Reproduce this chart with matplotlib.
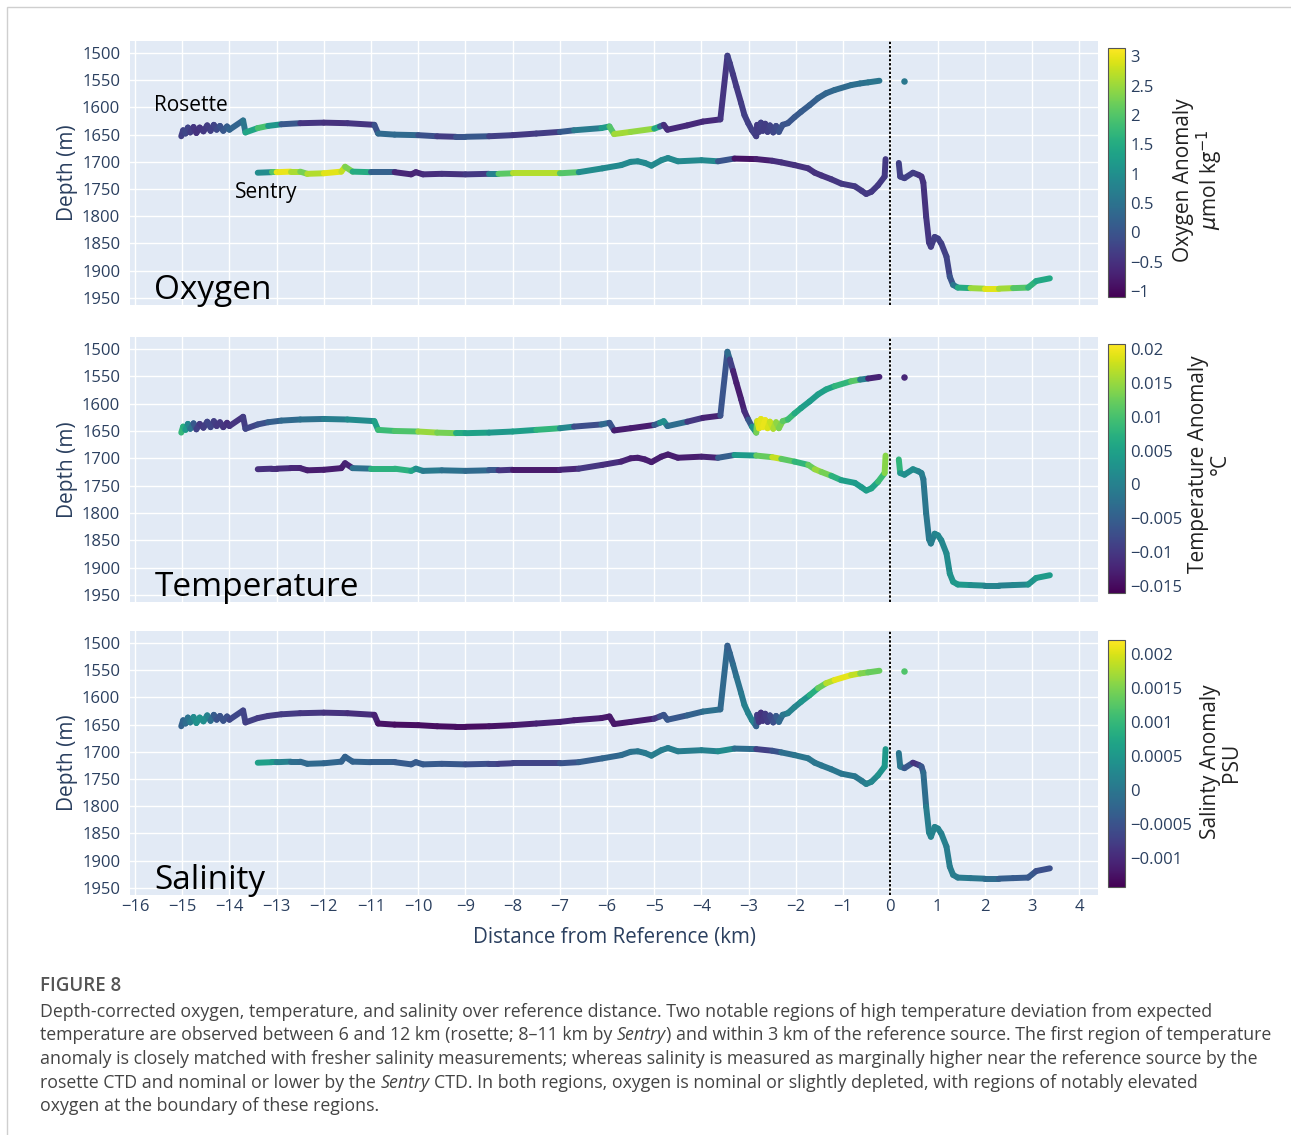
import numpy as np
import matplotlib
matplotlib.use('Agg')
import matplotlib.pyplot as plt
from matplotlib.collections import LineCollection
from matplotlib.colors import Normalize
from matplotlib.patches import Rectangle
import matplotlib.cm as cm

plt.rcParams['font.family'] = ['Open Sans', 'DejaVu Sans']

# ---------------- data ----------------
rosette_km = [-15.02, -14.98, -14.93, -14.88, -14.83, -14.76, -14.70, -14.63, -14.55, -14.47,
              -14.40, -14.33, -14.27, -14.20, -14.13, -14.05, -14.00, -13.71, -13.66, -13.40,
              -13.18, -12.90, -12.50, -12.00, -11.50, -10.93, -10.85, -10.50, -10.00, -9.60,
              -9.20, -9.00, -8.50, -8.00, -7.50, -7.00, -6.70, -6.12, -5.95, -5.85,
              -5.50, -5.00, -4.88, -4.80, -4.72, -4.30, -3.97, -3.60, -3.45, -3.40,
              -3.33, -3.26, -3.16, -3.09, -3.01, -2.93, -2.84, -2.82, -2.78, -2.74,
              -2.70, -2.65, -2.60, -2.55, -2.48, -2.42, -2.36, -2.28, -2.17, -2.03,
              -1.89, -1.71, -1.53, -1.36, -1.18, -0.83, -0.64, -0.47, -0.23]
rosette_depth = [1653, 1642, 1648, 1637, 1646, 1636, 1647, 1637, 1644, 1633,
                 1643, 1632, 1641, 1634, 1643, 1635, 1641, 1624, 1646, 1638,
                 1634, 1631, 1629, 1628, 1629, 1632, 1648, 1650, 1651, 1653,
                 1654, 1654, 1653, 1651, 1648, 1645, 1642, 1638, 1635, 1649,
                 1645, 1639, 1635, 1632, 1641, 1633, 1626, 1622, 1505, 1519,
                 1540, 1562, 1592, 1614, 1629, 1642, 1653, 1632, 1645, 1628,
                 1643, 1630, 1645, 1633, 1646, 1634, 1645, 1632, 1629, 1618,
                 1608, 1596, 1583, 1574, 1568, 1559, 1556, 1554, 1551]
rosette_oxygen = [-0.3, -0.3, -0.2, -0.2, -0.3, -0.4, -0.5, -0.5, -0.4, -0.4,
                  -0.3, -0.3, -0.2, -0.1, 0.0, 0.1, 0.2, 0.3, 0.8, 2.0,
                  1.8, 0.5, -0.4, -0.5, -0.5, -0.4, 0.3, 0.4, 0.3, -0.4,
                  -0.3, 0.3, -0.2, -0.4, -0.4, -0.3, 0.5, 0.8, 1.6, 2.4,
                  2.7, 2.2, 0.7, -0.5, -0.6, -0.6, -0.6, -0.6, -0.3, -0.3,
                  -0.4, -0.4, -0.4, -0.3, -0.3, -0.3, -0.3, -0.4, -0.4, -0.3,
                  -0.3, -0.4, -0.3, -0.3, -0.2, -0.2, -0.1, 0.0, 0.0, 0.05,
                  0.1, 0.15, 0.2, 0.25, 0.3, 0.4, 0.45, 0.5, 0.6]
rosette_temp = [0.009, 0.008, 0.006, 0.002, 0.000, -0.004, -0.008, -0.010, -0.010, -0.009,
                -0.008, -0.009, -0.010, -0.010, -0.010, -0.011, -0.011, -0.010, -0.009, -0.008,
                -0.006, -0.004, -0.003, -0.002, 0.001, 0.002, 0.008, 0.010, 0.011, 0.019,
                0.007, 0.006, 0.004, 0.003, 0.006, 0.010, -0.008, -0.007, 0.000, -0.013,
                -0.013, -0.013, 0.002, 0.002, 0.002, -0.008, -0.012, -0.013, 0.000, -0.006,
                -0.012, -0.013, -0.013, -0.012, -0.010, -0.002, 0.008, 0.018, 0.019, 0.019,
                0.019, 0.020, 0.019, 0.018, 0.017, 0.015, 0.014, 0.013, 0.010, 0.008,
                0.005, 0.004, 0.004, 0.005, 0.006, 0.010, 0.012, -0.013, -0.012]
rosette_salinity = [-0.0003, -0.0003, -0.0002, -0.0001, 0.0000, 0.0002, 0.0004, 0.0004, 0.0004, 0.0003,
                    0.0000, -0.0003, -0.0005, -0.0005, -0.0005, -0.0005, -0.0006, -0.0007, -0.0007, -0.0008,
                    -0.0008, -0.0008, -0.0008, -0.0009, -0.0009, -0.0010, -0.0012, -0.0013, -0.0013, -0.0013,
                    -0.0013, -0.0013, -0.0013, -0.0012, -0.0011, -0.0011, -0.0011, -0.0012, -0.0012, -0.0012,
                    -0.0012, -0.0011, -0.0006, -0.0005, -0.0005, -0.0004, -0.0002, 0.0000, -0.0004, -0.0003,
                    -0.0002, -0.0001, 0.0000, 0.0001, 0.0002, 0.0002, 0.0001, -0.0008, -0.0008, -0.0009,
                    -0.0009, -0.0008, -0.0008, -0.0007, -0.0006, -0.0005, -0.0003, -0.0001, 0.0001, 0.0002,
                    0.0003, 0.0006, 0.0011, 0.0016, 0.0020, 0.0021, 0.0016, 0.0014, 0.0013]

rosette_dot_km = [0.28]
rosette_dot_depth = [1551]
rosette_dot_oxygen = [0.6]
rosette_dot_temp = [-0.012]
rosette_dot_salinity = [0.0012]

sentry_a_km = [-13.40, -13.10, -13.00, -12.70, -12.50, -12.35, -12.00, -11.63, -11.55, -11.39,
               -11.00, -10.50, -10.15, -10.05, -9.90, -9.50, -9.00, -8.50, -8.30, -8.00,
               -7.00, -6.60, -6.10, -5.70, -5.50, -5.35, -5.20, -5.06, -4.85, -4.71,
               -4.50, -4.00, -3.65, -3.30, -2.84, -2.50, -2.31, -2.03, -1.74, -1.60,
               -1.46, -1.25, -1.04, -0.75, -0.61, -0.51, -0.40, -0.26, -0.12, -0.10]
sentry_a_depth = [1720, 1719, 1719, 1718, 1718, 1722, 1721, 1718, 1709, 1718,
                  1719, 1719, 1723, 1719, 1723, 1722, 1723, 1722, 1722, 1721,
                  1721, 1719, 1712, 1706, 1700, 1699, 1702, 1707, 1697, 1693,
                  1699, 1697, 1699, 1694, 1695, 1698, 1701, 1706, 1712, 1720,
                  1725, 1732, 1740, 1745, 1753, 1759, 1755, 1743, 1727, 1695]
sentry_a_oxygen = [0.9, 1.0, 3.0, 3.0, 2.2, 2.3, 3.0, 2.9, 2.6, 2.0,
                   1.0, -0.6, -0.7, -0.7, -0.6, -0.5, -0.5, -0.3, 1.8, 2.3,
                   3.0, 1.0, 0.9, 0.9, 0.9, 0.9, 0.9, 0.9, 0.9, 0.9,
                   0.9, 0.9, 0.9, -0.9, -0.9, -0.6, -0.5, -0.5, -0.5, -0.5,
                   -0.5, -0.45, -0.4, -0.4, -0.4, -0.4, -0.4, -0.4, -0.4, -0.4]
sentry_a_temp = [-0.011, -0.011, -0.011, -0.012, -0.012, -0.013, -0.013, -0.013, -0.013, -0.012,
                 0.007, 0.008, 0.007, 0.004, 0.000, -0.002, -0.003, -0.004, -0.008, -0.013,
                 -0.014, -0.010, -0.010, -0.012, -0.013, -0.013, -0.013, -0.013, -0.013, -0.013,
                 -0.013, -0.013, -0.012, 0.002, 0.006, 0.018, 0.017, 0.006, 0.010, 0.014,
                 0.016, 0.010, 0.005, 0.004, 0.004, 0.004, 0.005, 0.006, 0.012, 0.016]
sentry_a_salinity = [0.0006, 0.0006, 0.0004, -0.0001, -0.0002, -0.0002, -0.0002, -0.0003, -0.0003, -0.0003,
                     -0.0003, -0.0004, -0.0004, -0.0004, -0.0004, -0.0004, -0.0005, -0.0006, -0.0007, -0.0008,
                     -0.0006, -0.0004, -0.0003, -0.0002, -0.0001, 0.0000, 0.0000, 0.0001, 0.0001, 0.0001,
                     0.0001, 0.0001, 0.0002, 0.0004, -0.0007, -0.0008, -0.0002, 0.0000, 0.0000, 0.0000,
                     0.0000, 0.0000, 0.0000, 0.0000, 0.0000, 0.0001, 0.0002, 0.0003, 0.0005, 0.0005]

sentry_b_km = [0.18, 0.21, 0.30, 0.48, 0.60, 0.66, 0.70, 0.76, 0.82, 0.86,
               0.94, 1.01, 1.08, 1.19, 1.26, 1.33, 1.43, 1.70, 2.00, 2.30,
               2.60, 2.92, 3.09, 3.38]
sentry_b_depth = [1702, 1727, 1730, 1720, 1724, 1727, 1738, 1801, 1848, 1856,
                  1838, 1841, 1850, 1874, 1911, 1926, 1931, 1932, 1933, 1933,
                  1932, 1931, 1919, 1914]
sentry_b_oxygen = [-0.3, -0.3, -0.3, -0.3, -0.4, -0.5, -0.5, -0.5, -0.4, -0.4,
                   -0.3, -0.3, -0.3, -0.3, -0.2, 0.2, 1.0, 2.0, 3.0, 2.9,
                   2.2, 1.8, 1.5, 1.4]
sentry_b_temp = [0.012, 0.004, 0.002, 0.002, 0.001, 0.000, -0.001, -0.002, -0.001, -0.001,
                 0.000, 0.001, 0.001, 0.001, 0.002, 0.003, 0.004, 0.003, 0.001, 0.000,
                 0.000, 0.002, 0.004, 0.004]
sentry_b_salinity = [0.0000, 0.0000, 0.0000, -0.0009, -0.0009, -0.0006, -0.0003, 0.0000, 0.0002, 0.0002,
                     0.0002, 0.0002, 0.0002, 0.0001, 0.0001, 0.0001, 0.0001, 0.0000, 0.0000, -0.0003,
                     -0.0004, -0.0004, -0.0005, -0.0006]

panel_names = ['Oxygen', 'Temperature', 'Salinity']
cbar_titles = ['Oxygen Anomaly\n$\\mu$mol kg$^{-1}$', 'Temperature Anomaly\n°C', 'Salinty Anomaly\nPSU']
cbar_ranges = [(-1.1, 3.14), (-0.016, 0.0207), (-0.00143, 0.0022)]
cbar_ticks = [[-1, -0.5, 0, 0.5, 1, 1.5, 2, 2.5, 3],
              [-0.015, -0.01, -0.005, 0, 0.005, 0.01, 0.015, 0.02],
              [-0.001, -0.0005, 0, 0.0005, 0.001, 0.0015, 0.002]]
x_ticks = list(range(-16, 5))
depth_ticks = list(range(1500, 2000, 50))

caption_title = 'FIGURE 8'
caption_lines = [
    [('Depth-corrected oxygen, temperature, and salinity over reference distance. Two notable regions of high temperature deviation from expected', 'normal')],
    [('temperature are observed between 6 and 12 km (rosette; 8\u201311 km by', 'normal'), ('Sentry', 'italic'),
     (') and within 3 km of the reference source. The first region of temperature', 'normal')],
    [('anomaly is closely matched with fresher salinity measurements; whereas salinity is measured as marginally higher near the reference source by the', 'normal')],
    [('rosette CTD and nominal or lower by the', 'normal'), ('Sentry', 'italic'),
     ('CTD. In both regions, oxygen is nominal or slightly depleted, with regions of notably elevated', 'normal')],
    [('oxygen at the boundary of these regions.', 'normal')],
]
# ---------------------------------------------------------------

for a, b in [(rosette_km, rosette_depth), (rosette_km, rosette_oxygen), (rosette_km, rosette_temp),
             (rosette_km, rosette_salinity), (sentry_a_km, sentry_a_depth), (sentry_a_km, sentry_a_oxygen),
             (sentry_a_km, sentry_a_temp), (sentry_a_km, sentry_a_salinity), (sentry_b_km, sentry_b_depth),
             (sentry_b_km, sentry_b_oxygen), (sentry_b_km, sentry_b_temp), (sentry_b_km, sentry_b_salinity)]:
    assert len(a) == len(b), (len(a), len(b))

W, H = 1291, 1135
fig = plt.figure(figsize=(W / 100, H / 100), dpi=100)
fig.patch.set_facecolor('white')

TXT = '#2a3f5f'
BG = '#E2EAF5'
panel_px = [(41, 305), (337, 602), (631, 895)]
cbar_px = [(48, 297), (344, 593), (640, 887)]
cbar_title_px = [(1199, 180), (1209, 464), (1221, 762)]
PL, PR = 130, 1098

def fig_rect(x0, y0, x1, y1):
    return [x0 / W, 1 - y1 / H, (x1 - x0) / W, (y1 - y0) / H]

var_data = [
    (rosette_oxygen, sentry_a_oxygen, sentry_b_oxygen, rosette_dot_oxygen),
    (rosette_temp, sentry_a_temp, sentry_b_temp, rosette_dot_temp),
    (rosette_salinity, sentry_a_salinity, sentry_b_salinity, rosette_dot_salinity),
]

def draw_track(ax, xs, ds, vals, norm):
    pts = np.column_stack([np.asarray(xs, float), np.asarray(ds, float)])
    segs = np.stack([pts[:-1], pts[1:]], axis=1)
    v = np.asarray(vals, float)
    lc = LineCollection(segs, cmap='viridis', norm=norm, linewidths=4.3,
                        capstyle='round', joinstyle='round', zorder=3)
    lc.set_array((v[:-1] + v[1:]) / 2)
    ax.add_collection(lc)

for i in range(3):
    top, bot = panel_px[i]
    ax = fig.add_axes(fig_rect(PL, top, PR, bot))
    ax.set_facecolor(BG)
    ax.set_xlim(-16.106, 4.40)
    ax.set_ylim(1963, 1478)
    ax.set_xticks(x_ticks)
    ax.set_yticks(depth_ticks)
    ax.grid(True, color='white', lw=1.0)
    ax.set_axisbelow(True)
    for s in ax.spines.values():
        s.set_visible(False)
    ax.tick_params(axis='y', length=0, labelsize=12, labelcolor=TXT, pad=7)
    ax.tick_params(axis='x', length=0, labelsize=12, labelcolor=TXT, pad=3)
    ax.set_xticklabels([str(t).replace('-', '\u2212') for t in x_ticks])
    if i < 2:
        ax.tick_params(labelbottom=False)

    vmin, vmax = cbar_ranges[i]
    norm = Normalize(vmin=vmin, vmax=vmax)
    rv, sav, sbv, dv = var_data[i]
    draw_track(ax, rosette_km, rosette_depth, rv, norm)
    draw_track(ax, sentry_a_km, sentry_a_depth, sav, norm)
    draw_track(ax, sentry_b_km, sentry_b_depth, sbv, norm)
    ax.scatter(rosette_dot_km, rosette_dot_depth, c=dv, cmap='viridis', norm=norm,
               s=22, zorder=3, linewidths=0)

    ax.axvline(0, color='black', ls=(0, (1.2, 1.0)), lw=1.4, zorder=4)

    ax.text(-15.59, 1952, panel_names[i], fontsize=24, color='black',
            ha='left', va='baseline', zorder=5)
    if i == 0:
        ax.text(-15.59, 1596, 'Rosette', fontsize=15, color='black', ha='left', va='center', zorder=5)
        ax.text(-13.88, 1757, 'Sentry', fontsize=15, color='black', ha='left', va='center', zorder=5)

    fig.text(67 / W, 1 - ((top + bot) / 2) / H, 'Depth (m)', rotation=90,
             ha='center', va='center', fontsize=15, color=TXT)

    # colorbar
    c0, c1 = cbar_px[i]
    cax = fig.add_axes(fig_rect(1108, c0, 1125, c1))
    sm = cm.ScalarMappable(norm=norm, cmap='viridis')
    cb = fig.colorbar(sm, cax=cax)
    cb.set_ticks(cbar_ticks[i])
    cb.set_ticklabels([('%g' % t).replace('-', '\u2212') for t in cbar_ticks[i]])
    cax.tick_params(length=0, labelsize=12, labelcolor=TXT, pad=4)
    cb.outline.set_edgecolor('#555555')
    cb.outline.set_linewidth(0.8)
    tx, ty = cbar_title_px[i]
    fig.text(tx / W, 1 - ty / H, cbar_titles[i], rotation=90, ha='center', va='center',
             multialignment='center', fontsize=15, color='#222222', linespacing=1.05)

fig.text(614 / W, 1 - 938 / H, 'Distance from Reference (km)', ha='center', va='center',
         fontsize=14.8, color=TXT)

# frame
fig.patches.append(Rectangle((7 / W, -0.05), 1.2, 1 - 7 / H + 0.05, transform=fig.transFigure,
                             fill=False, edgecolor='#cfcfcf', lw=1.0))

# caption
renderer = fig.canvas.get_renderer()
CAP = '#444444'
fig.text(40 / W, 1 - 986 / H, caption_title, fontsize=13.5, fontweight='semibold',
         color='#555555', ha='left', va='center')

def text_width(s, size, style='normal'):
    t = fig.text(0, 0, s, fontsize=size, style=style)
    w = t.get_window_extent(renderer).width
    t.remove()
    return w

ref_w = text_width(caption_lines[2][0][0], 12)
cap_size = 12 * 1210 / ref_w
space_w = text_width('n n', cap_size) - text_width('nn', cap_size)
line_y = [1012, 1035, 1059, 1083, 1106]
for y, pieces in zip(line_y, caption_lines):
    x = 40
    for k, (s, style) in enumerate(pieces):
        if k > 0 and s[0] not in '),.;:':
            x += space_w
        t = fig.text(x / W, 1 - y / H, s, fontsize=cap_size, style=style, color=CAP,
                     ha='left', va='center')
        x = t.get_window_extent(renderer).x1

fig.savefig('out.png', dpi=100, facecolor='white')
